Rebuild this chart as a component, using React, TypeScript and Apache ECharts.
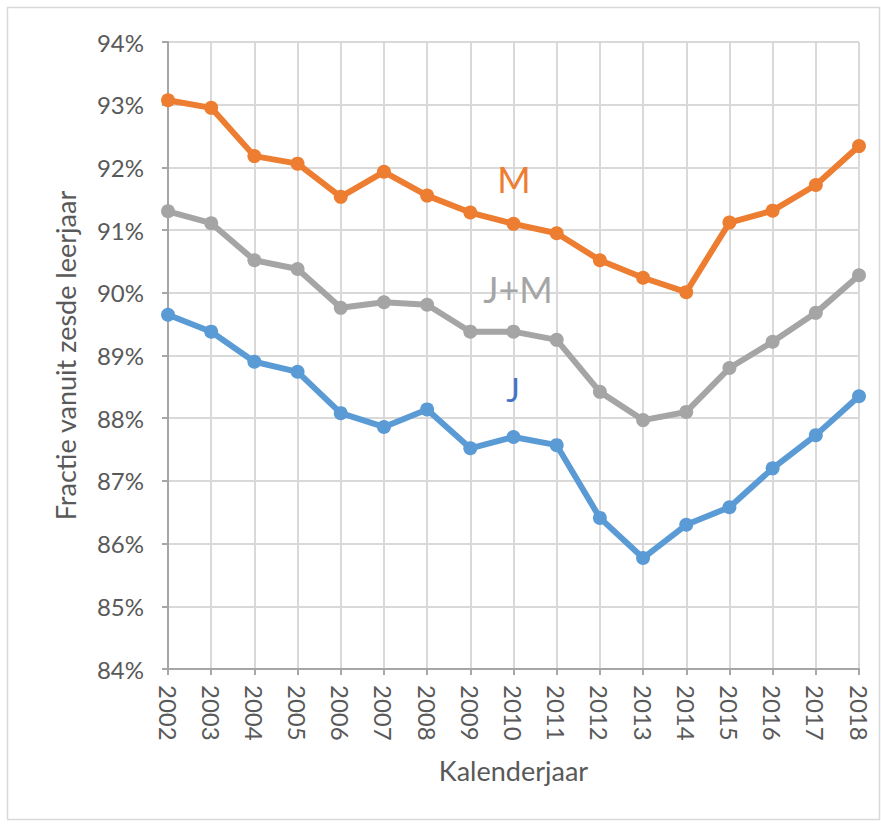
import React, { useEffect, useRef } from "react";
import * as echarts from "echarts";

const years = ["2002","2003","2004","2005","2006","2007","2008","2009","2010","2011","2012","2013","2014","2015","2016","2017","2018"];
const seriesM = [93.07, 92.95, 92.18, 92.06, 91.53, 91.93, 91.55, 91.28, 91.1, 90.95, 90.52, 90.24, 90.01, 91.12, 91.31, 91.72, 92.34];
const seriesJM = [91.3, 91.11, 90.52, 90.38, 89.76, 89.85, 89.81, 89.38, 89.38, 89.25, 88.42, 87.97, 88.1, 88.8, 89.22, 89.68, 90.28];
const seriesJ = [89.65, 89.38, 88.9, 88.74, 88.08, 87.86, 88.14, 87.52, 87.7, 87.57, 86.41, 85.77, 86.3, 86.58, 87.2, 87.73, 88.35];

const FONT = "Lato";

export default function App() {
  const ref = useRef<HTMLDivElement>(null);
  useEffect(() => {
    if (!ref.current) return;
    const chart = echarts.init(ref.current, null, { renderer: "svg" });
    const mk = (name: string, data: number[], color: string) => ({
      name,
      type: "line",
      data,
      symbol: "circle",
      symbolSize: 14,
      lineStyle: { color, width: 6 },
      itemStyle: { color },
      z: 3,
    });
    chart.setOption({
      animation: false,
      backgroundColor: "#ffffff",
      grid: { left: 168, right: 22, top: 42, bottom: 155 },
      xAxis: {
        type: "category",
        data: years,
        boundaryGap: false,
        name: "Kalenderjaar",
        nameLocation: "middle",
        nameGap: 88,
        nameTextStyle: { fontFamily: FONT, fontSize: 27, color: "#595959" },
        axisLine: { lineStyle: { color: "#A6A6A6", width: 2 } },
        axisTick: { show: true, length: 6, lineStyle: { color: "#A6A6A6", width: 2 } },
        axisLabel: { rotate: -90, margin: 16, fontFamily: FONT, fontSize: 24, color: "#595959" },
        splitLine: { show: true, lineStyle: { color: "#D9D9D9", width: 2 } },
      },
      yAxis: {
        type: "value",
        min: 84,
        max: 94,
        interval: 1,
        name: "Fractie vanuit zesde leerjaar",
        nameLocation: "middle",
        nameGap: 89,
        nameTextStyle: { fontFamily: FONT, fontSize: 27, color: "#595959" },
        axisLine: { show: true, lineStyle: { color: "#A6A6A6", width: 2 } },
        axisTick: { show: true, length: 6, lineStyle: { color: "#A6A6A6", width: 2 } },
        axisLabel: { formatter: (v: number) => `${v}%`, margin: 24, fontFamily: FONT, fontSize: 24, color: "#595959" },
        splitLine: { show: true, lineStyle: { color: "#D9D9D9", width: 2 } },
      },
      series: [
        mk("M", seriesM, "#ED7D31"),
        mk("J+M", seriesJM, "#A5A5A5"),
        mk("J", seriesJ, "#5B9BD5"),
      ],
      graphic: [
        { type: "rect", shape: { x: 7.5, y: 7.5, width: 872, height: 812 }, style: { fill: "none", stroke: "#D9D9D9", lineWidth: 1.5 }, z: -1 },
        { type: "text", x: 514, y: 179, style: { text: "M", fontFamily: FONT, fontSize: 36, fill: "#ED7D31", align: "center", verticalAlign: "middle" }, z: 10 },
        { type: "text", x: 518, y: 289, style: { text: "J+M", fontFamily: FONT, fontSize: 36, fill: "#A5A5A5", align: "center", verticalAlign: "middle" }, z: 10 },
        { type: "text", x: 513, y: 389, style: { text: "J", fontFamily: FONT, fontSize: 32, fill: "#4472C4", align: "center", verticalAlign: "middle" }, z: 10 },
      ],
    });
    return () => chart.dispose();
  }, []);
  return <div ref={ref} style={{ position: "absolute", left: 0, top: 0, width: 881, height: 824 }} />;
}
